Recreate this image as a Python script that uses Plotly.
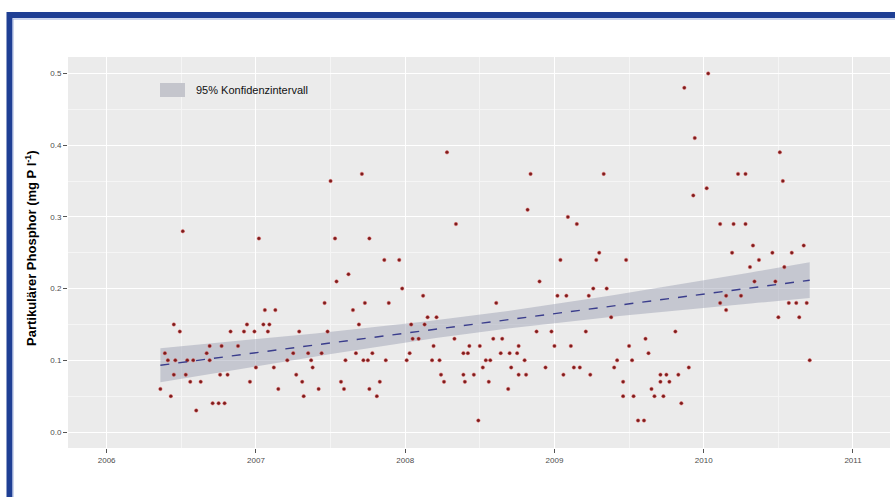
import numpy as np
import plotly.graph_objects as go

# Sampling dates (decimal years) and measured concentrations (mg P/l)
years = [
    2007.54, 2007.98, 2008.12, 2007.46, 2007.73, 2007.89, 2007.06, 2007.13, 2007.65, 2006.45,
    2006.94, 2007.05, 2007.09, 2007.69, 2008.04, 2008.15, 2008.21, 2008.13, 2006.49, 2006.83,
    2006.92, 2006.99, 2007.08, 2007.29, 2007.48, 2008.05, 2008.09, 2008.33, 2006.69, 2006.77,
    2006.88, 2008.19, 2008.43, 2006.39, 2006.67, 2007.25, 2007.35, 2007.44, 2007.67, 2007.78,
    2008.03, 2008.39, 2008.42, 2006.41, 2006.46, 2006.54, 2006.58, 2006.69, 2007.21, 2007.37,
    2007.60, 2007.72, 2007.75, 2007.87, 2008.01, 2008.18, 2008.23, 2007.00, 2007.12, 2007.38,
    2006.45, 2006.53, 2006.76, 2006.81, 2007.27, 2008.24, 2008.39, 2008.46, 2006.56, 2006.63,
    2006.96, 2007.31, 2007.57, 2007.83, 2008.26, 2008.40, 2006.36, 2007.15, 2007.42, 2007.59,
    2007.76, 2006.43, 2007.32, 2007.81, 2006.71, 2006.75, 2006.79, 2006.60, 2008.49,
    2010.02, 2009.93, 2010.53, 2008.82, 2009.09, 2009.15, 2010.11, 2010.20, 2010.28, 2010.33,
    2010.67, 2009.30, 2010.19, 2010.46, 2010.59, 2009.04, 2009.28, 2009.48, 2010.37, 2010.31,
    2010.54, 2008.90, 2010.34, 2010.48, 2009.26, 2009.35, 2009.02, 2009.08, 2009.23, 2010.15,
    2010.25, 2008.61, 2010.11, 2010.15, 2010.57, 2010.62, 2010.69, 2009.38, 2010.50, 2010.64,
    2008.88, 2008.98, 2009.21, 2009.81, 2008.59, 2008.65, 2008.50, 2008.76, 2009.00, 2009.11,
    2009.50, 2009.61, 2008.64, 2008.70, 2008.75, 2009.63, 2008.54, 2008.57, 2008.80, 2009.42,
    2009.52, 2010.71, 2008.52, 2008.71, 2008.94, 2009.13, 2009.17, 2009.40, 2009.90, 2008.76,
    2008.81, 2009.06, 2009.24, 2009.71, 2009.75, 2009.83, 2008.56, 2009.46, 2009.71, 2009.77,
    2008.69, 2009.65, 2009.46, 2009.53, 2009.67, 2009.73, 2009.85, 2009.56, 2009.60,
    2006.51, 2007.02, 2007.50, 2007.53, 2007.62, 2007.71, 2007.76, 2007.86, 2007.96, 2008.28,
    2008.34, 2008.84, 2009.33, 2009.87, 2009.94, 2010.03, 2010.23, 2010.28, 2010.51,
]
values = [
    0.21, 0.20, 0.19, 0.18, 0.18, 0.18, 0.17, 0.17, 0.17, 0.15,
    0.15, 0.15, 0.15, 0.15, 0.15, 0.16, 0.16, 0.15, 0.14, 0.14,
    0.14, 0.14, 0.14, 0.14, 0.14, 0.13, 0.13, 0.13, 0.12, 0.12,
    0.12, 0.12, 0.12, 0.11, 0.11, 0.11, 0.11, 0.11, 0.11, 0.11,
    0.11, 0.11, 0.11, 0.10, 0.10, 0.10, 0.10, 0.10, 0.10, 0.10,
    0.10, 0.10, 0.10, 0.10, 0.10, 0.10, 0.10, 0.09, 0.09, 0.09,
    0.08, 0.08, 0.08, 0.08, 0.08, 0.08, 0.08, 0.08, 0.07, 0.07,
    0.07, 0.07, 0.07, 0.07, 0.07, 0.07, 0.06, 0.06, 0.06, 0.06,
    0.06, 0.05, 0.05, 0.05, 0.04, 0.04, 0.04, 0.03, 0.016,
    0.34, 0.33, 0.35, 0.31, 0.30, 0.29, 0.29, 0.29, 0.29, 0.26,
    0.26, 0.25, 0.25, 0.25, 0.25, 0.24, 0.24, 0.24, 0.24, 0.23,
    0.23, 0.21, 0.21, 0.21, 0.20, 0.20, 0.19, 0.19, 0.19, 0.19,
    0.19, 0.18, 0.18, 0.17, 0.18, 0.18, 0.18, 0.16, 0.16, 0.16,
    0.14, 0.14, 0.14, 0.14, 0.13, 0.13, 0.12, 0.12, 0.12, 0.12,
    0.12, 0.13, 0.11, 0.11, 0.11, 0.11, 0.10, 0.10, 0.10, 0.10,
    0.10, 0.10, 0.09, 0.09, 0.09, 0.09, 0.09, 0.09, 0.09, 0.08,
    0.08, 0.08, 0.08, 0.08, 0.08, 0.08, 0.07, 0.07, 0.07, 0.07,
    0.06, 0.06, 0.05, 0.05, 0.05, 0.05, 0.04, 0.016, 0.016,
    0.28, 0.27, 0.35, 0.27, 0.22, 0.36, 0.27, 0.24, 0.24, 0.39,
    0.29, 0.36, 0.36, 0.48, 0.41, 0.50, 0.36, 0.36, 0.39,
]

x_ticks = [2006, 2007, 2008, 2009, 2010, 2011]
y_ticks = [0.0, 0.1, 0.2, 0.3, 0.4, 0.5]
band_label = "95% Konfidenzintervall"
y_title = "Partikulärer Phosphor (mg P l<sup>-1</sup>)"

# Linear trend with 95% confidence band
x = np.array(years)
y = np.array(values)
n = len(x)
slope, intercept = np.polyfit(x, y, 1)
resid = y - (intercept + slope * x)
s = np.sqrt(np.sum(resid ** 2) / (n - 2))
xg = np.linspace(x.min(), x.max(), 100)
fit = intercept + slope * xg
se = s * np.sqrt(1.0 / n + (xg - x.mean()) ** 2 / np.sum((x - x.mean()) ** 2))
t_crit = 1.972
upper = fit + t_crit * se
lower = fit - t_crit * se

band_fill = "rgba(150,155,175,0.45)"

fig = go.Figure()

fig.add_trace(go.Scatter(
    x=xg, y=upper, mode="lines", line=dict(width=0, color="rgba(0,0,0,0)"),
    showlegend=False, hoverinfo="skip",
))
fig.add_trace(go.Scatter(
    x=xg, y=lower, mode="lines", line=dict(width=0, color="rgba(0,0,0,0)"),
    fill="tonexty", fillcolor=band_fill,
    name=band_label, showlegend=False, hoverinfo="skip",
))
fig.add_trace(go.Scatter(
    x=x, y=y, mode="markers",
    marker=dict(size=3.5, color="#7a1d1d", line=dict(width=0.8, color="rgba(230,90,90,0.55)")),
    showlegend=False,
))
fig.add_trace(go.Scatter(
    x=xg, y=fit, mode="lines",
    line=dict(color="#3a3d8c", width=1.4, dash="dash"),
    showlegend=False,
))

W, H = 895, 497
L, R, T, B = 68, 5, 57, 49
pw = W - L - R
ph = H - T - B

def px_x(p):
    return (p - L) / pw

def px_y(p):
    return (H - B - p) / ph

axis_common = dict(
    showgrid=True, gridcolor="white", gridwidth=1.2,
    zeroline=False, showline=False,
    ticks="outside", ticklen=4, tickwidth=1, tickcolor="#555555",
    tickfont=dict(family="Liberation Sans, Arial", size=8, color="#4d4d4d"),
)

fig.update_layout(
    width=W, height=H,
    margin=dict(l=L, r=R, t=T, b=B),
    paper_bgcolor="white",
    plot_bgcolor="#ebebeb",
    font=dict(family="Liberation Sans, Arial"),
    showlegend=False,
    xaxis=dict(
        range=[2005.741, 2011.248], tickvals=x_ticks, ticktext=[str(v) for v in x_ticks],
        minor=dict(dtick=0.5, tick0=2006, showgrid=True, gridcolor="#f5f5f5", gridwidth=0.6, ticks=""),
        **axis_common,
    ),
    yaxis=dict(
        range=[-0.0223, 0.523], tickvals=y_ticks, ticktext=[f"{v:.1f}" for v in y_ticks],
        minor=dict(dtick=0.05, tick0=0, showgrid=True, gridcolor="#f5f5f5", gridwidth=0.6, ticks=""),
        **axis_common,
    ),
    annotations=[
        dict(
            text=f"<b>{y_title}</b>", textangle=-90,
            x=px_x(31), y=px_y(248), xref="paper", yref="paper",
            showarrow=False, font=dict(size=13, color="black"),
            xanchor="center", yanchor="middle",
        ),
        dict(
            text=band_label,
            x=px_x(194), y=px_y(90), xref="paper", yref="paper",
            showarrow=False, font=dict(size=11, color="#111111"),
            xanchor="left", yanchor="middle",
        ),
    ],
    shapes=[
        # outer frame
        dict(
            type="rect", xref="paper", yref="paper",
            x0=px_x(9.5), x1=px_x(905), y0=px_y(520), y1=px_y(15),
            line=dict(color="#1f3f94", width=6), fillcolor="rgba(0,0,0,0)", layer="below",
        ),
        dict(
            type="rect", xref="paper", yref="paper",
            x0=px_x(13), x1=px_x(902), y0=px_y(518), y1=px_y(19),
            line=dict(color="#9fb0dc", width=1), fillcolor="rgba(0,0,0,0)", layer="below",
        ),
        # legend key for the confidence band
        dict(
            type="rect", xref="paper", yref="paper",
            x0=px_x(160), x1=px_x(185), y0=px_y(97), y1=px_y(83),
            line=dict(width=0), fillcolor="#c4c5cc",
        ),
    ],
)

fig.write_html("out.html")
